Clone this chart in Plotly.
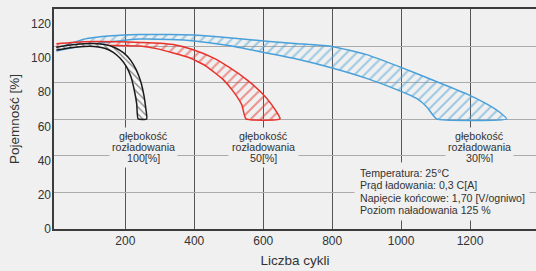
import plotly.graph_objects as go

BG = "#eff0ef"
TXT = "#333333"
FONT = "Arial, Liberation Sans, sans-serif"

# ---- axes ----
x_ticks = [200, 400, 600, 800, 1000, 1200]
y_grid = [20, 40, 60, 80, 100]
y_tick_labels = [0, 20, 40, 60, 80, 100, 120]

# ---- band edges (cycles, capacity %) ----
# 100 % depth of discharge (black)
blk_out_x = [0, 40, 80, 110, 140, 170, 195, 215, 232, 245, 254, 259, 262]
blk_out_y = [99.6, 100.8, 101.5, 101.6, 101.0, 99.3, 96.5, 92.5, 87.0, 80.5, 73.0, 66.5, 60.3]
blk_in_x = [0, 40, 80, 110, 140, 165, 185, 203, 216, 226, 233, 237]
blk_in_y = [98.0, 99.3, 100.0, 100.0, 99.0, 96.8, 93.5, 89.0, 83.5, 76.0, 68.5, 60.3]

# 50 % depth of discharge (red)
red_out_x = [0, 80, 175, 243, 300, 339, 397, 455, 504, 552, 591, 625, 649]
red_out_y = [101.5, 102.6, 102.6, 102.2, 101.8, 101.0, 98.2, 93.7, 88.2, 81.8, 75.4, 68.0, 60.3]
red_in_x = [0, 80, 175, 243, 290, 339, 388, 436, 484, 513, 538, 550]
red_in_y = [99.4, 100.6, 100.5, 100.2, 98.8, 96.4, 93.7, 89.0, 81.8, 75.4, 68.0, 60.3]

# 30 % depth of discharge (blue)
blu_out_x = [0, 80, 160, 240, 330, 400, 500, 610, 700, 800, 900, 1000, 1093, 1190, 1248, 1287, 1306]
blu_out_y = [99.0, 104.0, 105.8, 106.5, 106.6, 106.2, 104.8, 102.8, 101.5, 100.0, 95.5, 88.5, 81.5, 74.0, 68.5, 63.8, 60.3]
blu_in_x = [0, 80, 160, 240, 330, 400, 500, 610, 700, 800, 900, 1000, 1045, 1074, 1103]
blu_in_y = [97.5, 100.5, 102.5, 104.0, 103.8, 103.0, 100.5, 96.4, 93.0, 88.2, 82.5, 75.4, 71.5, 67.0, 60.3]

depth_labels = ["100[%]", "50[%]", "30[%]"]
label_word1 = "głębokość"
label_word2 = "rozładowania"
info_lines = [
    "Temperatura: 25°C",
    "Prąd ładowania: 0,3 C[A]",
    "Napięcie końcowe: 1,70 [V/ogniwo]",
    "Poziom naładowania 125 %",
]

fig = go.Figure()

bands = [
    (blu_out_x, blu_out_y, blu_in_x, blu_in_y, "#4aa0d8", "/", 7, "rgba(0,0,0,0)"),
    (red_out_x, red_out_y, red_in_x, red_in_y, "#e8322c", "/", 7, "rgba(0,0,0,0)"),
    (blk_out_x, blk_out_y, blk_in_x, blk_in_y, "#1a1a1a", "\\", 5, "#f6f6f6"),
]
for ox, oy, ix, iy, col, shp, sz, bgc in bands:
    fig.add_trace(go.Scatter(
        x=ox + ix[::-1], y=oy + iy[::-1],
        mode="lines", fill="toself",
        line=dict(color=col, width=1.5, shape="spline", smoothing=0.4),
        fillcolor=bgc,
        fillpattern=dict(shape=shp, fgcolor=col, bgcolor=bgc, size=sz, solidity=0.28),
        hoverinfo="skip", showlegend=False,
    ))

# carrier trace for the labelled y axis
fig.add_trace(go.Scatter(
    x=[x_ticks[0]] * len(y_tick_labels), y=y_tick_labels, yaxis="y2",
    mode="markers", marker=dict(opacity=0), hoverinfo="skip", showlegend=False,
))

# depth-of-discharge labels
label_cx = [252.7, 600.8, 1227.4]
label_w = [67, 69, 67]
for cx, w, lab in zip(label_cx, label_w, depth_labels):
    fig.add_annotation(x=cx, y=44.8, xref="x", yref="y", text=" ", showarrow=False,
                       width=w, height=39, bgcolor=BG, borderpad=0)
    for yy, t in zip([51.1, 45.1, 39.1], [label_word1, label_word2, lab]):
        fig.add_annotation(x=cx, y=yy, xref="x", yref="y", text=t, showarrow=False,
                           font=dict(family=FONT, size=10.7, color=TXT))

# info box
fig.add_annotation(x=1118.6, y=20.8, xref="x", yref="y", text=" ", showarrow=False,
                   width=174, height=56.5, bgcolor=BG, borderpad=0)
for yy, t in zip([30.7, 23.9, 17.0, 10.2], info_lines):
    fig.add_annotation(x=874.1, y=yy, xref="x", yref="y", text=t, showarrow=False,
                       xanchor="left", align="left",
                       font=dict(family=FONT, size=10.6, color=TXT))

fig.update_layout(
    width=536, height=271,
    margin=dict(l=54, r=0, t=9, b=42, autoexpand=False),
    paper_bgcolor=BG, plot_bgcolor=BG,
    font=dict(family=FONT, color=TXT),
    xaxis=dict(
        range=[-7, 1391.4], tickvals=x_ticks, showgrid=True, automargin=False,
        gridcolor="#555555", gridwidth=1.4, zeroline=False,
        showline=True, linecolor="#3c3c3c", linewidth=2, mirror=True,
        ticks="", tickfont=dict(size=12, color=TXT),
        title=dict(text="Liczba cykli", font=dict(size=13.5, color=TXT), standoff=8),
    ),
    yaxis=dict(
        range=[0, 120.5], tickvals=y_grid, showticklabels=False, automargin=False,
        showgrid=True, gridcolor="#ababab", gridwidth=1.4, zeroline=False,
        showline=True, linecolor="#3c3c3c", linewidth=2, ticks="",
    ),
    yaxis2=dict(
        range=[0, 128.65], overlaying="y", side="left", anchor="x", automargin=False,
        tickvals=y_tick_labels, showgrid=False, zeroline=False, showline=False,
        ticks="", tickfont=dict(size=12, color=TXT), ticklabelstandoff=2,
        title=dict(text="Pojemność [%]", font=dict(size=13.5, color=TXT), standoff=8),
    ),
)

fig.write_html(
    "out.html",
    config={"displayModeBar": False},
    post_script="document.body.style.margin='0';document.body.style.background='" + BG + "';",
)
